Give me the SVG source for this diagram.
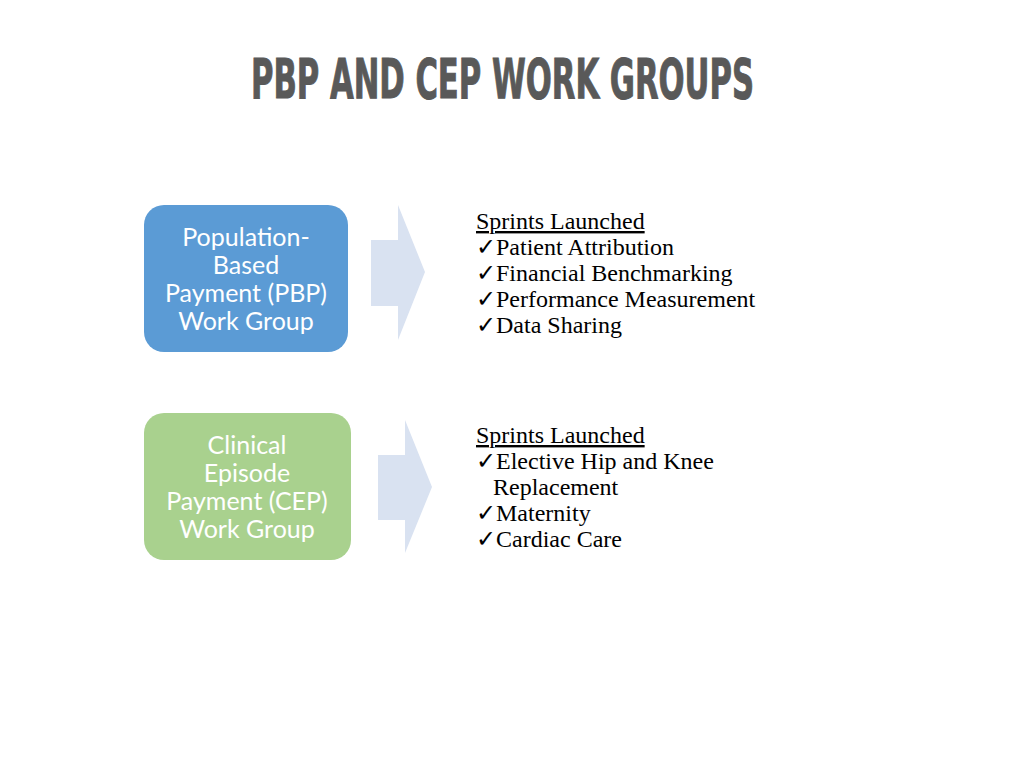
<svg xmlns="http://www.w3.org/2000/svg" width="1024" height="768" viewBox="0 0 1024 768">
<style>
.title{font-family:"DejaVu Sans Condensed","DejaVu Sans",sans-serif;font-weight:bold;font-size:44px;fill:#595959;stroke:#595959;stroke-width:0.8}
.box{font-family:Lato,"Open Sans",sans-serif;font-size:25px;fill:#ffffff;text-anchor:middle}
.list{font-family:"Liberation Serif",serif;font-size:24px;fill:#000000}
.arrow{fill:#d9e2f1}
</style>
<rect width="1024" height="768" fill="#ffffff"/>
<text class="title" transform="translate(251,98) scale(1,1.27)" x="0" y="0" textLength="503" lengthAdjust="spacingAndGlyphs">PBP AND CEP WORK GROUPS</text>
<g id="pbp">
<rect x="144" y="205" width="204" height="147" rx="20" fill="#5b9bd5"/>
<text class="box" x="246" y="246">Population-</text>
<text class="box" x="246" y="274">Based</text>
<text class="box" x="246" y="302">Payment (PBP)</text>
<text class="box" x="246" y="330">Work Group</text>
</g>
<g id="cep">
<rect x="144" y="413" width="207" height="147" rx="20" fill="#a9d18e"/>
<text class="box" x="247" y="454">Clinical</text>
<text class="box" x="247" y="482">Episode</text>
<text class="box" x="247" y="510">Payment (CEP)</text>
<text class="box" x="247" y="538">Work Group</text>
</g>
<g id="connectors">
<polygon class="arrow" points="371,240 398,240 398,205 425,272 398,340 398,306 371,306"/>
<polygon class="arrow" points="378,455 405,455 405,420 432,487 405,553 405,520 378,520"/>
</g>
<g id="pbp-sprints" class="list">
<text x="476" y="229" text-decoration="underline">Sprints Launched</text>
<text x="476" y="255">✓Patient Attribution</text>
<text x="476" y="281">✓Financial Benchmarking</text>
<text x="476" y="307">✓Performance Measurement</text>
<text x="476" y="333">✓Data Sharing</text>
</g>
<g id="cep-sprints" class="list">
<text x="476" y="443" text-decoration="underline">Sprints Launched</text>
<text x="476" y="469">✓Elective Hip and Knee</text>
<text x="493" y="495">Replacement</text>
<text x="476" y="521">✓Maternity</text>
<text x="476" y="547">✓Cardiac Care</text>
</g>
</svg>
